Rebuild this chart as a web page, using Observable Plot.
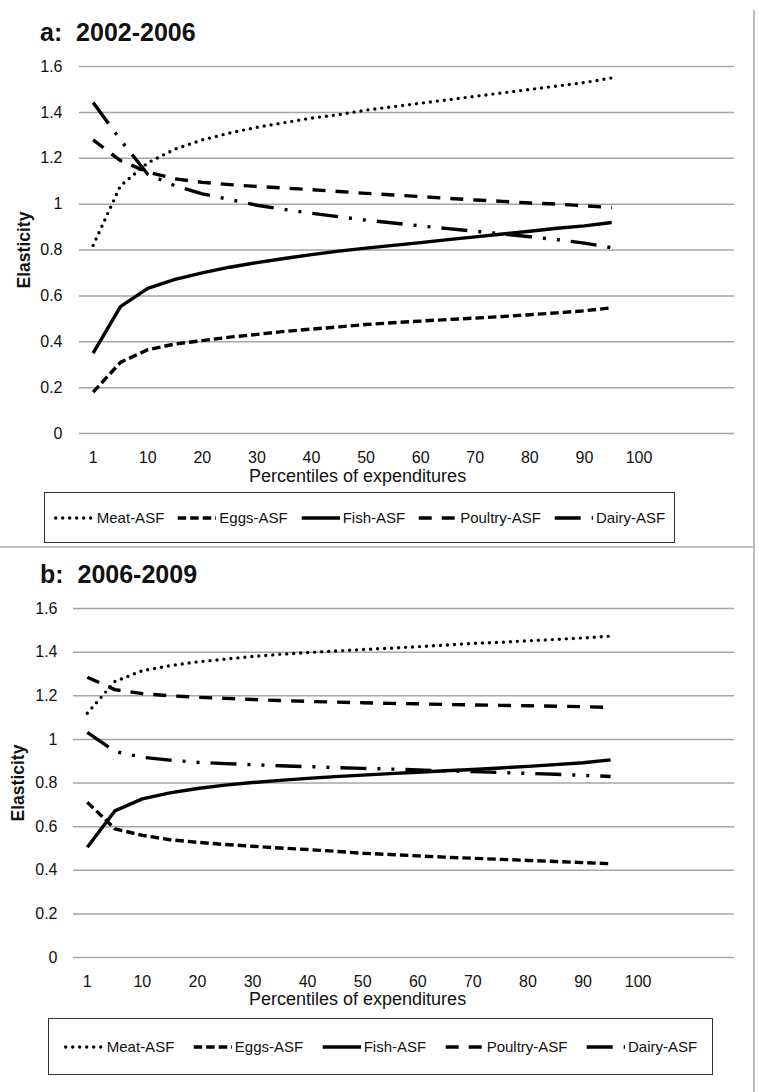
<!DOCTYPE html>
<html>
<head>
<meta charset="utf-8">
<script src="https://cdn.jsdelivr.net/npm/d3@7"></script>
<script src="https://cdn.jsdelivr.net/npm/@observablehq/plot@0.6"></script>
<style>
  html, body { margin: 0; padding: 0; background: #fff; }
  body { width: 759px; height: 1092px; position: relative; overflow: hidden; font-family: "Liberation Sans", Arial, sans-serif; color: #111; }
  .abs { position: absolute; }
  .ptitle { font-weight: bold; font-size: 25px; white-space: pre; line-height: 1; }
  .xtitle { font-size: 18px; line-height: 1; white-space: nowrap; }
  .legend { border: 1.5px solid #333; box-sizing: border-box; display: flex; align-items: center; justify-content: center; font-size: 15px; white-space: nowrap; }
  .item { display: flex; align-items: center; white-space: nowrap; flex: none; }
  .item svg { display: block; flex: none; }
  .vline { position: absolute; left: 753px; top: 10px; width: 2px; height: 1082px; background: #bdbdbd; }
  .hline { position: absolute; left: 0; top: 546px; width: 754px; height: 2px; background: #bdbdbd; }
</style>
</head>
<body>
<script>
// ---- data ----
const percentiles = [1, 5, 10, 15, 20, 25, 30, 35, 40, 45, 50, 55, 60, 65, 70, 75, 80, 85, 90, 95];
const tickLabels = ["1", "10", "20", "30", "40", "50", "60", "70", "80", "90", "100"];
const seriesNames = ["Meat-ASF", "Eggs-ASF", "Fish-ASF", "Poultry-ASF", "Dairy-ASF"];

// Panel a: 2002-2006
const meatA    = [0.82, 1.08, 1.18, 1.24, 1.28, 1.31, 1.335, 1.355, 1.375, 1.39, 1.41, 1.425, 1.44, 1.455, 1.47, 1.485, 1.50, 1.515, 1.53, 1.55];
const eggsA    = [0.18, 0.31, 0.365, 0.39, 0.405, 0.42, 0.432, 0.445, 0.455, 0.465, 0.475, 0.483, 0.49, 0.497, 0.503, 0.51, 0.518, 0.526, 0.535, 0.548];
const fishA    = [0.35, 0.553, 0.633, 0.672, 0.70, 0.725, 0.745, 0.763, 0.78, 0.795, 0.808, 0.82, 0.832, 0.845, 0.857, 0.87, 0.882, 0.895, 0.905, 0.92];
const poultryA = [1.28, 1.19, 1.14, 1.11, 1.095, 1.085, 1.077, 1.07, 1.063, 1.055, 1.047, 1.04, 1.033, 1.025, 1.018, 1.012, 1.005, 1.0, 0.993, 0.985];
const dairyA   = [1.443, 1.28, 1.13, 1.08, 1.045, 1.02, 0.995, 0.977, 0.96, 0.945, 0.93, 0.918, 0.905, 0.893, 0.882, 0.87, 0.858, 0.845, 0.83, 0.81];

// Panel b: 2006-2009
const meatB    = [1.12, 1.265, 1.315, 1.338, 1.355, 1.368, 1.38, 1.39, 1.398, 1.405, 1.412, 1.418, 1.425, 1.432, 1.44, 1.445, 1.452, 1.458, 1.465, 1.473];
const eggsB    = [0.712, 0.59, 0.56, 0.54, 0.528, 0.518, 0.51, 0.502, 0.495, 0.487, 0.478, 0.472, 0.466, 0.46, 0.455, 0.45, 0.445, 0.44, 0.435, 0.43];
const fishB    = [0.505, 0.672, 0.727, 0.755, 0.775, 0.79, 0.802, 0.812, 0.821, 0.829, 0.836, 0.843, 0.849, 0.856, 0.862, 0.869, 0.876, 0.884, 0.893, 0.906];
const poultryB = [1.285, 1.228, 1.21, 1.2, 1.193, 1.188, 1.183, 1.178, 1.174, 1.171, 1.168, 1.165, 1.163, 1.16, 1.158, 1.156, 1.154, 1.152, 1.15, 1.146];
const dairyB   = [1.032, 0.945, 0.918, 0.905, 0.895, 0.889, 0.884, 0.879, 0.875, 0.871, 0.867, 0.864, 0.86, 0.856, 0.852, 0.848, 0.844, 0.84, 0.835, 0.83];

const yTicks = [0, 0.2, 0.4, 0.6, 0.8, 1, 1.2, 1.4, 1.6];

// ---- styles ----
const styles = {
  "Meat-ASF":    {strokeWidth: 3.4, strokeDasharray: "0 7", strokeLinecap: "round"},
  "Eggs-ASF":    {strokeWidth: 3.4, strokeDasharray: "8.5 4", strokeLinecap: "butt"},
  "Fish-ASF":    {strokeWidth: 3.4, strokeDasharray: null, strokeLinecap: "butt"},
  "Poultry-ASF": {strokeWidth: 3.4, strokeDasharray: "13 10", strokeLinecap: "butt"},
  "Dairy-ASF":   {strokeWidth: 3.4, strokeDasharray: "26 11 3 11 3 11", strokeLinecap: "butt"}
};

function rows(vals) {
  return seriesNames.map((name, k) => percentiles.map((p, i) => ({series: name, idx: i, pct: p, value: vals[k][i]})));
}

function makePlot(vals, g) {
  const data = rows(vals);
  const tickIdx = tickLabels.map((_, j) => j * 2);
  const marks = [
    Plot.ruleY(yTicks, {stroke: "#a6a6a6", strokeWidth: 1.5}),
    Plot.axisY({ticks: yTicks, tickSize: 0, tickPadding: g.yPad, tickFormat: d => String(+d.toFixed(1)), label: null, fontSize: 16, fill: "#111"}),
    Plot.axisX({ticks: tickIdx, tickSize: 0, tickPadding: 18, tickFormat: d => tickLabels[d / 2], label: null, fontSize: 16, fill: "#111"}),
    Plot.text(["Elasticity"], {frameAnchor: "left", rotate: -90, dx: g.labelDx, fontSize: 17.5, fontWeight: "bold", fill: "#111", textAnchor: "middle"})
  ];
  data.forEach(s => {
    const st = styles[s[0].series];
    marks.push(Plot.line(s, {x: "idx", y: "value", stroke: "#000", strokeWidth: st.strokeWidth, strokeDasharray: st.strokeDasharray, strokeLinecap: st.strokeLinecap, strokeLinejoin: "round"}));
  });
  return Plot.plot({
    width: 759,
    height: g.height,
    marginTop: g.top,
    marginBottom: g.height - g.bottom,
    marginLeft: g.left,
    marginRight: 759 - g.right,
    x: {type: "linear", domain: [-0.5, 23.5]},
    y: {domain: [0, 1.6]},
    style: {fontFamily: "Liberation Sans, Arial, sans-serif", fontSize: "16px", color: "#111", background: "transparent"},
    marks
  });
}

function legendItem(name, swatchGap) {
  const st = styles[name];
  const item = document.createElement("div");
  item.className = "item";
  item.style.gap = swatchGap + "px";
  const w = 40;
  const svg = d3.create("svg").attr("width", w).attr("height", 12);
  svg.append("line").attr("x1", 1.7).attr("x2", w).attr("y1", 6).attr("y2", 6)
    .attr("stroke", "#000").attr("stroke-width", st.strokeWidth)
    .attr("stroke-dasharray", st.strokeDasharray).attr("stroke-linecap", st.strokeLinecap);
  item.appendChild(svg.node());
  const t = document.createElement("span");
  t.textContent = name;
  item.appendChild(t);
  return item;
}

function legend(left, top, width, height, swatchGap, itemGap) {
  const box = document.createElement("div");
  box.className = "abs legend";
  Object.assign(box.style, {left: left + "px", top: top + "px", width: width + "px", height: height + "px", gap: itemGap + "px"});
  seriesNames.forEach(n => box.appendChild(legendItem(n, swatchGap)));
  document.body.appendChild(box);
  return box;
}

function addText(cls, text, left, top) {
  const d = document.createElement("div");
  d.className = "abs " + cls;
  d.textContent = text;
  d.style.left = left + "px";
  d.style.top = top + "px";
  document.body.appendChild(d);
  return d;
}

function place(svg) {
  svg.style.position = "absolute"; svg.style.left = "0px"; svg.style.top = "0px";
  document.body.appendChild(svg);
}

// Panel a
const gA = {height: 470, top: 66, bottom: 433, left: 79, right: 734, labelDx: -55, yPad: 17};
place(makePlot([meatA, eggsA, fishA, poultryA, dairyA], gA));
addText("ptitle", "a:  2002-2006", 40, 20);
addText("xtitle", "Percentiles of expenditures", 249, 467);
legend(44, 492, 631, 51, 3, 12);

// divider lines
const hl = document.createElement("div"); hl.className = "hline"; document.body.appendChild(hl);
const vl = document.createElement("div"); vl.className = "vline"; document.body.appendChild(vl);

// Panel b
const gB = {height: 1000, top: 608, bottom: 957, left: 73, right: 734, labelDx: -55, yPad: 16};
place(makePlot([meatB, eggsB, fishB, poultryB, dairyB], gB));
addText("ptitle", "b:  2006-2009", 40, 562);
addText("xtitle", "Percentiles of expenditures", 249, 990);
legend(48, 1018, 665, 57, 3, 17.5);
</script>
</body>
</html>
